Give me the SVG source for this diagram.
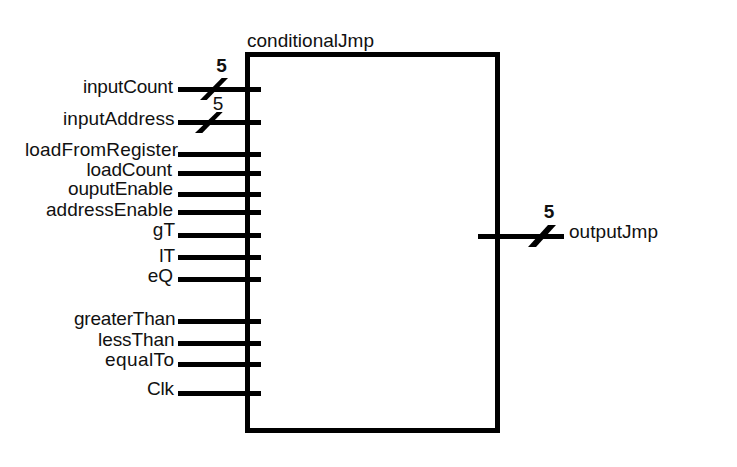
<svg xmlns="http://www.w3.org/2000/svg" width="737" height="467" viewBox="0 0 737 467">
<style>
text{font-family:"Liberation Sans",Arial,sans-serif;font-size:19px;fill:#111}
.l{text-anchor:end}
.b{font-weight:bold}
.w{stroke:#000;stroke-width:5;fill:none}
</style>
<rect width="737" height="467" fill="#fff"/>
<g id="connectors">
<path class="w" d="M178 89.500H261M178 122.500H261M178 154.500H261M178 173.500H261M178 194.500H261M178 212.500H261M178 235.500H261M178 257.500H261M178 279.500H261M178 321.500H261M178 343.500H261M178 364.500H261M178 393.500H261M478 236.500H564"/>
<polygon points="221.700,78 228,78 206.700,100 200,100"/>
<polygon points="216.700,112 222.700,112 202.300,133 195,133"/>
<polygon points="548,225 556,225 536,247 528,247"/>
</g>
<g id="conditionalJmp"><rect class="w" x="247.500" y="54.500" width="250" height="376"/><text x="247" y="47" textLength="127">conditionalJmp</text></g>
<g id="inputCount"><text x="83" y="93" textLength="90">inputCount</text><text class="b" x="221.500" y="71.500" text-anchor="middle">5</text></g>
<g id="inputAddress"><text x="63" y="125" textLength="111.500">inputAddress</text><text x="218" y="109.500" text-anchor="middle">5</text></g>
<g id="loadFromRegister"><text x="25" y="156" textLength="153">loadFromRegister</text></g>
<g id="loadCount"><text x="86.500" y="176" textLength="85.500">loadCount</text></g>
<g id="ouputEnable"><text x="68" y="195" textLength="105">ouputEnable</text></g>
<g id="addressEnable"><text x="46" y="216" textLength="127">addressEnable</text></g>
<g id="gT"><text class="l" x="175" y="236">gT</text></g>
<g id="lT"><text class="l" x="175" y="262">lT</text></g>
<g id="eQ"><text class="l" x="173" y="282">eQ</text></g>
<g id="greaterThan"><text x="74" y="325" textLength="101.500">greaterThan</text></g>
<g id="lessThan"><text x="98" y="346" textLength="76.500">lessThan</text></g>
<g id="equalTo"><text x="105" y="366" textLength="69">equalTo</text></g>
<g id="Clk"><text x="147" y="395" textLength="27">Clk</text></g>
<g id="outputJmp"><text x="569" y="238" textLength="89">outputJmp</text><text class="b" x="549" y="218" text-anchor="middle">5</text></g>
</svg>
